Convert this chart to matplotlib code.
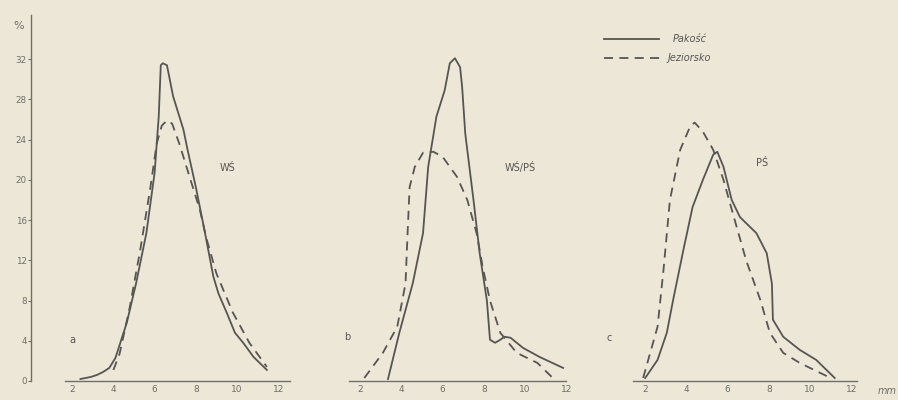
import matplotlib
matplotlib.use("Agg")
import matplotlib.pyplot as plt

# Panel a - WŚ
aSolidX = [2.4, 2.9, 3.2, 3.5, 3.8, 4.1, 4.65, 5.1, 5.6, 6.0, 6.2, 6.3, 6.4, 6.6, 6.9, 7.4, 7.6, 8.0, 8.45, 8.85, 9.1, 9.5, 9.9, 10.3, 10.8, 11.45]
aSolidY = [0.2, 0.4, 0.6, 0.9, 1.3, 2.3, 5.8, 9.7, 14.7, 20.7, 26.3, 31.4, 31.6, 31.4, 28.3, 25.0, 23.0, 19.3, 14.7, 10.4, 8.7, 6.8, 4.8, 3.8, 2.4, 1.1]
aDashX = [4.0, 4.3, 4.8, 5.3, 5.8, 6.1, 6.35, 6.6, 6.85, 7.2, 7.7, 8.2, 8.5, 9.0, 9.8, 10.6, 11.45]
aDashY = [1.1, 2.7, 7.4, 13.0, 19.3, 23.6, 25.4, 25.9, 25.6, 23.6, 20.3, 17.0, 14.3, 10.7, 6.8, 3.8, 1.4]

# Panel b - WŚ/PŚ
bSolidX = [3.35, 3.9, 4.55, 5.05, 5.3, 5.7, 6.1, 6.35, 6.6, 6.85, 6.95, 7.1, 7.5, 7.8, 8.15, 8.3, 8.55, 8.8, 9.0, 9.3, 9.9, 10.7, 11.85]
bSolidY = [0.2, 4.8, 9.7, 14.7, 21.3, 26.3, 28.9, 31.6, 32.1, 31.2, 29.2, 24.6, 18.0, 12.7, 8.0, 4.1, 3.8, 4.1, 4.4, 4.3, 3.3, 2.4, 1.3]
bDashX = [2.2, 3.1, 3.8, 4.2, 4.3, 4.4, 4.65, 5.05, 5.55, 6.0, 6.7, 7.2, 7.65, 7.95, 8.3, 8.8, 9.6, 10.6, 11.35]
bDashY = [0.3, 2.8, 5.4, 9.7, 14.7, 19.3, 21.3, 22.7, 22.8, 22.3, 20.3, 18.0, 14.7, 11.3, 8.0, 4.8, 2.8, 1.8, 0.3]

# Panel c - PŚ
cSolidX = [2.0, 2.6, 3.05, 3.35, 3.85, 4.3, 4.8, 5.3, 5.5, 5.8, 6.2, 6.6, 7.4, 7.9, 8.15, 8.2, 8.7, 9.5, 10.3, 10.8, 11.2]
cSolidY = [0.3, 2.1, 4.8, 8.0, 13.0, 17.3, 20.0, 22.5, 22.8, 21.3, 18.0, 16.3, 14.7, 12.7, 9.7, 6.1, 4.4, 3.1, 2.1, 1.1, 0.3]
cDashX = [1.9, 2.6, 2.9, 3.2, 3.7, 4.2, 4.4, 4.8, 5.3, 5.8, 6.25, 6.9, 7.6, 8.05, 8.7, 9.5, 10.5, 11.0]
cDashY = [0.3, 5.4, 11.3, 18.0, 23.0, 25.4, 25.7, 24.8, 23.0, 20.0, 16.7, 12.0, 8.0, 4.8, 2.8, 1.8, 0.8, 0.3]

xTicks = [2, 4, 6, 8, 10, 12]
yTicks = [0, 4, 8, 12, 16, 20, 24, 28, 32]
panelNames = ["WŚ", "WŚ/PŚ", "PŚ"]
panelLetters = ["a", "b", "c"]
seriesNames = ["Pakość", "Jeziorsko"]

bg = "#ece7d7"
ink = "#555553"
axisInk = "#6e6e6a"

fig = plt.figure(figsize=(8.98, 4.0), dpi=100, facecolor=bg)

#Panel-Positionen in Pixeln (x=0 der Achse)
lefts = [31, 319, 604]
spineBounds = [(1.65, 12.57), (1.45, 12.0), (1.4, 12.3)]
data = [(aSolidX, aSolidY, aDashX, aDashY),
        (bSolidX, bSolidY, bDashX, bDashY),
        (cSolidX, cSolidY, cDashX, cDashY)]
namePos = [(9.55, 21.2), (9.75, 21.2), (7.65, 21.7)]
letterPos = [(2.0, 4.1), (1.36, 4.4), (0.25, 4.3)]

pxPerUnit = 20.6
xMax = 13.5
yMax = 36.4

axes = []
for i in range(3):
    ax = fig.add_axes([lefts[i] / 898, 19 / 400, xMax * pxPerUnit / 898, 366 / 400])
    ax.set_facecolor("none")
    ax.set_xlim(0, xMax)
    ax.set_ylim(0, yMax)
    sx, sy, dx, dy = data[i]
    ax.plot(sx, sy, color=ink, lw=1.3, solid_joinstyle="round", clip_on=False)
    ax.plot(dx, dy, color=ink, lw=1.3, linestyle=(0, (5, 3.5)), clip_on=False)

    for s in ["top", "right"]:
        ax.spines[s].set_visible(False)
    ax.spines["bottom"].set_bounds(*spineBounds[i])
    ax.spines["bottom"].set_color(axisInk)
    ax.spines["bottom"].set_linewidth(1.0)
    ax.set_xticks(xTicks)
    ax.set_xticklabels([str(t) for t in xTicks], fontsize=6.5, color=axisInk)
    ax.tick_params(axis="x", length=0, pad=3)

    if i == 0:
        ax.spines["left"].set_color(axisInk)
        ax.spines["left"].set_linewidth(1.0)
        ax.set_yticks(yTicks)
        ax.set_yticklabels([str(t) for t in yTicks], fontsize=6.3, color=axisInk)
        ax.tick_params(axis="y", length=2, width=0.8, color=axisInk, pad=1)
        ax.text(-0.6, 35.3, "%", fontsize=8, color=axisInk, ha="center", va="center")
    else:
        ax.spines["left"].set_visible(False)
        ax.set_yticks([])

    ax.text(namePos[i][0], namePos[i][1], panelNames[i], fontsize=7, color=ink, ha="center", va="center")
    ax.text(letterPos[i][0], letterPos[i][1], panelLetters[i], fontsize=7, color=ink, ha="center", va="center")
    axes.append(ax)

# Legende und Einheit im dritten Panel
axc = axes[2]
axc.plot([0, 2.65], [34.0, 34.0], color=ink, lw=1.3, clip_on=False)
axc.plot([0, 2.75], [32.1, 32.1], color=ink, lw=1.3, linestyle=(0, (5, 3.5)), clip_on=False)
axc.text(3.35, 34.0, seriesNames[0], fontsize=7, style="italic", color=ink, va="center")
axc.text(3.1, 32.1, seriesNames[1], fontsize=7, style="italic", color=ink, va="center")
axc.text(13.3, -0.95, "mm", fontsize=7, style="italic", color=axisInk, va="center", clip_on=False)

fig.savefig("out.png", dpi=100, facecolor=bg)
